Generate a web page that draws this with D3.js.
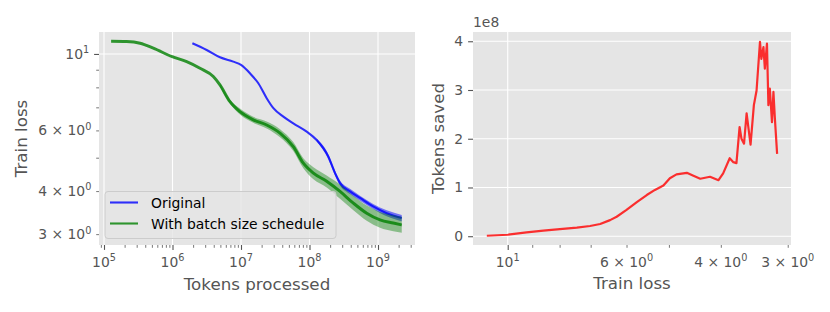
<!DOCTYPE html>
<meta charset="utf-8">
<script src="https://d3js.org/d3.v7.min.js"></script>
<style>
  body { margin: 0; background: #fff; }
  text { font-family: "DejaVu Sans", sans-serif; }
</style>
<div id="chart"></div>
<script>

// ---- data ----
// left: train loss against tokens processed
const tokensOrig = [1.95e6, 3.15e6, 4.93e6, 7.72e6, 1e7, 1.35e7, 1.79e7, 2.37e7, 2.97e7, 4.15e7, 5.8e7,
  9.1e7, 1.27e8, 1.88e8, 2.36e8, 2.79e8, 3.9e8, 5.46e8, 8.5e8, 1.34e9, 2.22e9];
const lossOrig = [10.74, 10.27, 9.78, 9.50, 9.29, 8.79, 8.22, 7.44, 6.96, 6.58, 6.29,
  5.95, 5.63, 5.04, 4.51, 4.22, 3.99, 3.82, 3.61, 3.45, 3.34];
// noise envelope of the original run
const bandOrigTokens = [1.27e8, 1.88e8, 2.36e8, 2.79e8, 3.9e8, 5.46e8, 8.5e8, 1.34e9, 2.22e9];
const bandOrigHi = [5.68, 5.12, 4.58, 4.29, 4.06, 3.88, 3.67, 3.52, 3.41];
const bandOrigLo = [5.58, 4.95, 4.43, 4.15, 3.92, 3.75, 3.55, 3.38, 3.27];

const tokensBatch = [1.27e5, 2.14e5, 3.36e5, 5.25e5, 9.9e5, 1.61e6, 2.52e6, 3.94e6, 4.93e6, 6.9e6, 9.66e6,
  1.51e7, 2.37e7, 3.71e7, 5.8e7, 8.13e7, 1.14e8, 1.78e8, 2.79e8, 4.37e8, 6.84e8, 1.07e9, 1.67e9, 2.22e9];
const lossBatch = [10.88, 10.86, 10.74, 10.39, 9.82, 9.50, 9.09, 8.60, 8.13, 7.27, 6.80,
  6.44, 6.22, 5.89, 5.38, 4.82, 4.51, 4.27, 3.99, 3.69, 3.45, 3.30, 3.23, 3.19];
// noise envelope of the batch size schedule run
const bandBatchTokens = [4.93e6, 6.9e6, 9.66e6, 1.51e7, 2.37e7, 3.71e7, 5.8e7, 8.13e7, 1.14e8, 1.78e8,
  2.79e8, 4.37e8, 6.84e8, 1.07e9, 1.67e9, 2.22e9];
const bandBatchHi = [8.21, 7.37, 6.94, 6.57, 6.37, 6.05, 5.55, 4.98, 4.69, 4.44, 4.18, 3.87, 3.63, 3.48, 3.41, 3.37];
const bandBatchLo = [8.05, 7.18, 6.67, 6.31, 6.08, 5.73, 5.23, 4.66, 4.33, 4.10, 3.80, 3.52, 3.28, 3.13, 3.06, 3.03];

// right: tokens saved against train loss
const lossSaved = [10.94, 10.0, 9.22, 8.58, 7.99, 7.43, 7.02, 6.72, 6.44, 6.26, 6.0, 5.74, 5.50, 5.31, 5.12,
  4.98, 4.84, 4.63, 4.50, 4.37, 4.19, 4.04, 3.96, 3.85, 3.79, 3.74, 3.69, 3.66, 3.62, 3.58, 3.52, 3.47,
  3.43, 3.38, 3.36, 3.33, 3.31, 3.28, 3.26, 3.24, 3.21, 3.19, 3.17, 3.14];
const tokensSaved = [0.01e8, 0.03e8, 0.08e8, 0.115e8, 0.145e8, 0.176e8, 0.21e8, 0.25e8, 0.33e8, 0.40e8, 0.54e8,
  0.70e8, 0.845e8, 0.95e8, 1.04e8, 1.19e8, 1.27e8, 1.30e8, 1.24e8, 1.18e8, 1.22e8, 1.15e8, 1.29e8, 1.60e8,
  1.52e8, 1.50e8, 2.24e8, 2.0e8, 1.90e8, 2.52e8, 1.88e8, 2.69e8, 2.99e8, 3.99e8, 3.64e8, 3.88e8, 3.44e8,
  3.95e8, 2.69e8, 3.03e8, 2.34e8, 2.96e8, 2.41e8, 1.69e8];

// ticks
const xTicksLeft = [1e5, 1e6, 1e7, 1e8, 1e9];
const yTicksLeft = [10, 6, 4, 3];
const lossTickLabels = {10: ["10", "1"], 6: ["6 × 10", "0"], 4: ["4 × 10", "0"], 3: ["3 × 10", "0"]};
const xTicksRight = [10, 6, 4, 3];
const yTicksRight = [0, 1e8, 2e8, 3e8, 4e8];

const legendNames = ["Original", "With batch size schedule"];

// ---- setup ----
const W = 830, H = 312;
const svg = d3.select("#chart").append("svg").attr("width", W).attr("height", H);

const tickColor = "#555555", fs = 13.9;
const blue = "rgba(0,0,255,0.8)", green = "rgba(0,128,0,0.8)", red = "rgba(255,0,0,0.8)";

const L = {x0: 99, x1: 415, y0: 32, y1: 245};
const R = {x0: 473, x1: 791, y0: 32, y1: 245};

const xL = d3.scaleLog().domain([10 ** 4.927, 10 ** 9.54]).range([L.x0, L.x1]);
const yL = d3.scaleLog().domain([2.79, 11.58]).range([L.y1, L.y0]);
const xR = d3.scaleLog().domain([11.61, 2.958]).range([R.x0, R.x1]);
const yR = d3.scaleLinear().domain([-0.18e8, 4.19e8]).range([R.y1, R.y0]);

function panel(b) {
  svg.append("rect").attr("x", b.x0).attr("y", b.y0)
    .attr("width", b.x1 - b.x0).attr("height", b.y1 - b.y0).attr("fill", "#E5E5E5");
}
function gridV(b, scale, vals) {
  svg.append("g").selectAll("line").data(vals).join("line")
    .attr("x1", d => scale(d)).attr("x2", d => scale(d))
    .attr("y1", b.y0).attr("y2", b.y1)
    .attr("stroke", "#fff").attr("stroke-width", 1.1);
}
function gridH(b, scale, vals) {
  svg.append("g").selectAll("line").data(vals).join("line")
    .attr("y1", d => scale(d)).attr("y2", d => scale(d))
    .attr("x1", b.x0).attr("x2", b.x1)
    .attr("stroke", "#fff").attr("stroke-width", 1.1);
}
function styleAxis(g, w) {
  g.select(".domain").remove();
  g.selectAll(".tick line").attr("stroke", tickColor).attr("stroke-width", w);
}
// x ticks with log minors
function xAxis(b, scale, major) {
  const minor = scale.ticks().filter(t => !major.some(m => Math.abs(m - t) / m < 1e-6));
  svg.append("g").attr("transform", `translate(0,${b.y1})`)
    .call(d3.axisBottom(scale).tickValues(minor).tickSize(2.8).tickFormat(""))
    .call(g => styleAxis(g, 0.8));
  svg.append("g").attr("transform", `translate(0,${b.y1})`)
    .call(d3.axisBottom(scale).tickValues(major).tickSize(4.9).tickFormat(""))
    .call(g => styleAxis(g, 1.1));
}
function yAxisLog(b, scale, major) {
  const minor = scale.ticks().filter(t => !major.some(m => Math.abs(m - t) / m < 1e-6));
  svg.append("g").attr("transform", `translate(${b.x0},0)`)
    .call(d3.axisLeft(scale).tickValues(minor).tickSize(2.8).tickFormat(""))
    .call(g => styleAxis(g, 0.8));
  svg.append("g").attr("transform", `translate(${b.x0},0)`)
    .call(d3.axisLeft(scale).tickValues(major).tickSize(4.9).tickFormat(""))
    .call(g => styleAxis(g, 1.1));
}
// text with a superscript part
function supText(x, y, base, sup, anchor) {
  const t = svg.append("text").attr("x", x).attr("y", y)
    .attr("text-anchor", anchor).attr("font-size", fs).attr("fill", tickColor);
  t.append("tspan").text(base);
  t.append("tspan").attr("dy", -5.6).attr("font-size", fs * 0.7).text(sup);
  return t;
}

// ---- left panel ----
panel(L);
gridV(L, xL, xTicksLeft);
gridH(L, yL, [10]);
xAxis(L, xL, xTicksLeft);
yAxisLog(L, yL, [10]);

xTicksLeft.forEach(t => supText(xL(t), 267, "10", String(Math.round(Math.log10(t))), "middle"));
yTicksLeft.forEach(t => {
  const lab = lossTickLabels[t];
  supText(L.x0 - (t === 10 ? 9.8 : 7.6), yL(t) + 5, lab[0], lab[1], "end");
});

const lineL = d3.line().x(d => xL(d[0])).y(d => yL(d[1])).curve(d3.curveMonotoneX);
const areaL = d3.area().x(d => xL(d[0])).y0(d => yL(d[1])).y1(d => yL(d[2])).curve(d3.curveMonotoneX);

svg.append("path").datum(bandOrigTokens.map((t, i) => [t, bandOrigLo[i], bandOrigHi[i]]))
  .attr("d", areaL).attr("fill", "rgba(0,0,255,0.5)");
svg.append("path").datum(tokensOrig.map((t, i) => [t, lossOrig[i]]))
  .attr("d", lineL).attr("fill", "none").attr("stroke", blue).attr("stroke-width", 2.1)
  .attr("stroke-linejoin", "round");

svg.append("path").datum(bandBatchTokens.map((t, i) => [t, bandBatchLo[i], bandBatchHi[i]]))
  .attr("d", areaL).attr("fill", "rgba(0,128,0,0.4)");
svg.append("path").datum(tokensBatch.map((t, i) => [t, lossBatch[i]]))
  .attr("d", lineL).attr("fill", "none").attr("stroke", green).attr("stroke-width", 3)
  .attr("stroke-linejoin", "round");

// legend
const lg = svg.append("g");
lg.append("rect").attr("x", 105).attr("y", 191.5).attr("width", 231).attr("height", 47)
  .attr("rx", 3).attr("fill", "rgba(229,229,229,0.8)").attr("stroke", "#CCCCCC").attr("stroke-width", 1);
[[legendNames[0], blue, 202.5], [legendNames[1], green, 223.5]].forEach(([name, c, y]) => {
  lg.append("line").attr("x1", 110).attr("x2", 138).attr("y1", y).attr("y2", y)
    .attr("stroke", c).attr("stroke-width", 2.1);
  lg.append("text").attr("x", 151).attr("y", y + 5).attr("font-size", fs).attr("fill", "#000").text(name);
});

svg.append("text").attr("x", (L.x0 + L.x1) / 2).attr("y", 290).attr("text-anchor", "middle")
  .attr("font-size", 16.7).attr("fill", tickColor).text("Tokens processed");
svg.append("text").attr("transform", `translate(27,${(L.y0 + L.y1) / 2}) rotate(-90)`)
  .attr("text-anchor", "middle").attr("font-size", 16.7).attr("fill", tickColor).text("Train loss");

// ---- right panel ----
panel(R);
gridV(R, xR, [10]);
gridH(R, yR, yTicksRight);
xAxis(R, xR, [10]);
svg.append("g").attr("transform", `translate(${R.x0},0)`)
  .call(d3.axisLeft(yR).tickValues(yTicksRight).tickSize(4.9).tickFormat(""))
  .call(g => styleAxis(g, 1.1));

xTicksRight.forEach(t => {
  const lab = lossTickLabels[t];
  supText(xR(t), 267, lab[0], lab[1], "middle");
});
yTicksRight.forEach(t => {
  svg.append("text").attr("x", R.x0 - 9.8).attr("y", yR(t) + 5).attr("text-anchor", "end")
    .attr("font-size", fs).attr("fill", tickColor).text(d3.format("d")(t / 1e8));
});
svg.append("text").attr("x", R.x0).attr("y", 27).attr("font-size", fs).attr("fill", tickColor).text("1e8");

const lineR = d3.line().x(d => xR(d[0])).y(d => yR(d[1]));
svg.append("path").datum(lossSaved.map((l, i) => [l, tokensSaved[i]]))
  .attr("d", lineR).attr("fill", "none").attr("stroke", red).attr("stroke-width", 2.2)
  .attr("stroke-linejoin", "round");

svg.append("text").attr("x", (R.x0 + R.x1) / 2).attr("y", 289).attr("text-anchor", "middle")
  .attr("font-size", 16.7).attr("fill", tickColor).text("Train loss");
svg.append("text").attr("transform", `translate(444,${(R.y0 + R.y1) / 2}) rotate(-90)`)
  .attr("text-anchor", "middle").attr("font-size", 16.7).attr("fill", tickColor).text("Tokens saved");

</script>
